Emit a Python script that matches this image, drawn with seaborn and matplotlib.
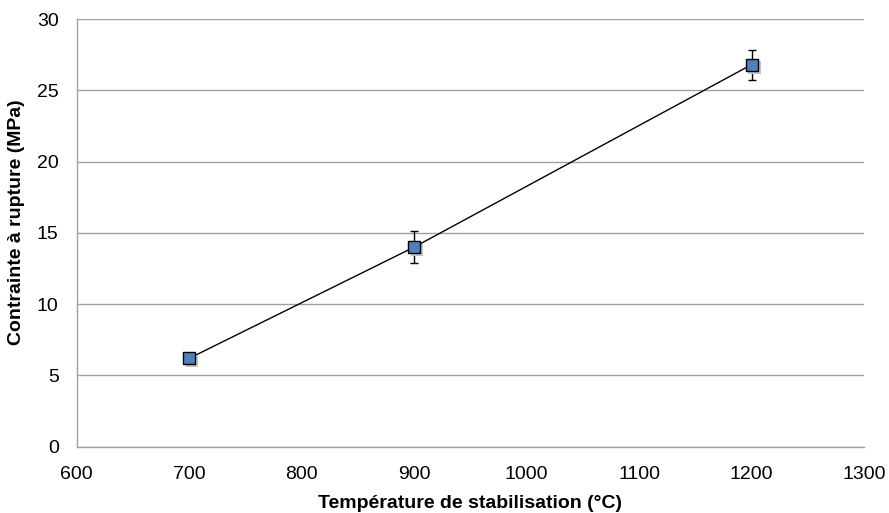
import matplotlib
matplotlib.use("Agg")
import matplotlib.pyplot as plt
import seaborn as sns
import pandas as pd

# data
temperatures = [700, 900, 1200]
stress = [6.2, 14.0, 26.8]
stress_err = [0.15, 1.1, 1.05]

df = pd.DataFrame({"temp": temperatures, "stress": stress, "err": stress_err})

sns.set_style("white")
plt.rcParams['font.family'] = ['Liberation Sans', 'DejaVu Sans']
plt.rcParams['text.color'] = 'black'
plt.rcParams['axes.labelcolor'] = 'black'

fig = plt.figure(figsize=(8.89, 5.13), dpi=100)
ax = fig.add_axes([0.0863, 0.1292, 0.8856, 0.8337])

# connecting line
sns.lineplot(data=df, x="temp", y="stress", color="black", linewidth=1.0, ax=ax, zorder=3)

# error bars
ax.errorbar(df["temp"], df["stress"], yerr=df["err"], fmt="none",
            ecolor="black", elinewidth=1.0, capsize=3, capthick=1.0, zorder=2)

# soft shadow under markers
ax.scatter(df["temp"] + 2.5, df["stress"] - 0.2, marker="s", s=80,
           color="#c4c4c4", edgecolor="none", zorder=3.5)
sns.scatterplot(data=df, x="temp", y="stress", marker="s", s=80,
                color="#4f81bd", edgecolor="black", linewidth=1.0, ax=ax, zorder=4)

ax.set_xlim(600, 1300)
ax.set_ylim(0, 30)
ax.set_xticks(range(600, 1301, 100))
ax.set_yticks(range(0, 31, 5))

ax.yaxis.grid(True, color="#a0a0a0", linewidth=1.0)
ax.xaxis.grid(False)
ax.set_axisbelow(True)

for side in ["top", "right"]:
    ax.spines[side].set_visible(False)
for side in ["left", "bottom"]:
    ax.spines[side].set_color("#a0a0a0")
    ax.spines[side].set_linewidth(1.0)

ax.tick_params(axis="both", direction="out", length=4, width=1.0,
               color="#a0a0a0", labelsize=14, labelcolor="black")
ax.tick_params(axis="x", pad=10)
ax.tick_params(axis="y", pad=9)

ax.set_xlabel("Température de stabilisation (°C)", fontsize=14, fontweight="bold", color="black")
ax.set_ylabel("Contrainte à rupture (MPa)", fontsize=14, fontweight="bold", color="black")
ax.xaxis.set_label_coords(0.5, -0.112)
ax.yaxis.set_label_coords(-0.066, 0.524)

fig.savefig("out.png", dpi=100)
